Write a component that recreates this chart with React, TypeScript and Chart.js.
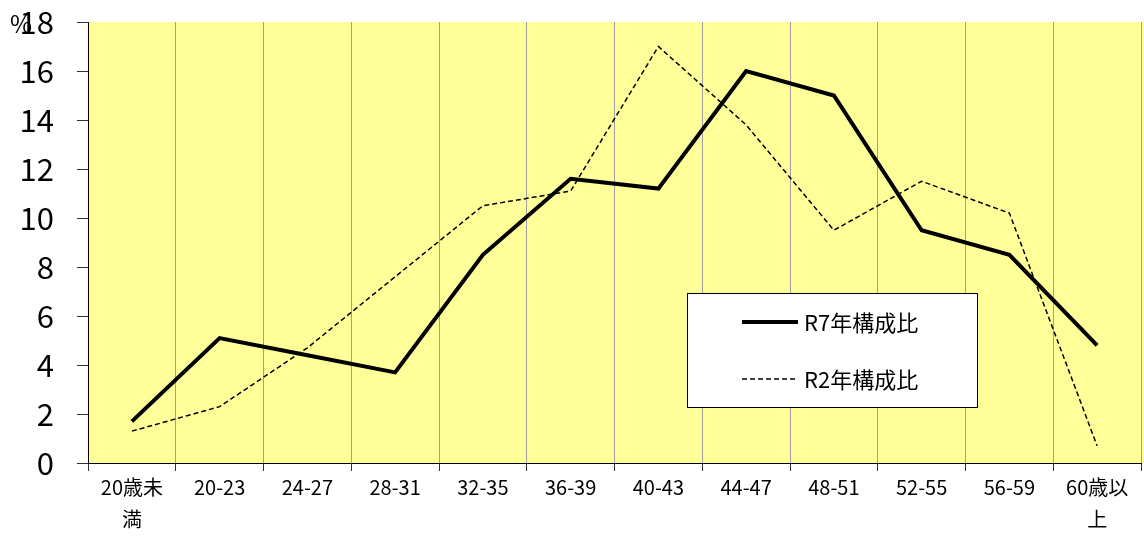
import React, { useEffect, useRef } from "react";
import { Chart, registerables } from "chart.js";

Chart.register(...registerables);

const categories: (string | string[])[] = [
  ["20歳未", "満"],
  "20-23",
  "24-27",
  "28-31",
  "32-35",
  "36-39",
  "40-43",
  "44-47",
  "48-51",
  "52-55",
  "56-59",
  ["60歳以", "上"],
];
const r7Label = "R7年構成比";
const r2Label = "R2年構成比";
const r7Values = [1.7, 5.1, 4.4, 3.7, 8.5, 11.6, 11.2, 16.0, 15.0, 9.5, 8.5, 4.8];
const r2Values = [1.3, 2.3, 4.7, 7.6, 10.5, 11.1, 17.0, 13.8, 9.5, 11.5, 10.2, 0.7];
const yMin = 0;
const yMax = 18;
const yStep = 2;
const unitLabel = "%";

const FONT = "'Noto Sans CJK JP', 'Noto Sans', sans-serif";

const bgPlugin = {
  id: "plotBg",
  beforeDraw(chart: any) {
    const { ctx, chartArea } = chart;
    ctx.save();
    ctx.fillStyle = "#FFFF99";
    ctx.fillRect(chartArea.left, chartArea.top, chartArea.right - chartArea.left + 3, chartArea.bottom - chartArea.top);
    ctx.restore();
  },
};

const overlayPlugin = {
  id: "overlay",
  afterDraw(chart: any) {
    const { ctx } = chart;
    ctx.save();
    // unit label
    ctx.fillStyle = "#000";
    ctx.font = `24px ${FONT}`;
    ctx.textAlign = "left";
    ctx.textBaseline = "middle";
    ctx.fillText(unitLabel, 10, 24);

    // legend box
    const bx = 687, by = 293, bw = 290, bh = 114;
    ctx.fillStyle = "#fff";
    ctx.fillRect(bx, by, bw, bh);
    ctx.strokeStyle = "#000";
    ctx.lineWidth = 1;
    ctx.strokeRect(bx + 0.5, by + 0.5, bw, bh);

    const items = chart.data.datasets;
    const rows = [322, 379];
    items.forEach((ds: any, i: number) => {
      const y = rows[i];
      ctx.beginPath();
      ctx.strokeStyle = ds.borderColor;
      ctx.lineWidth = ds.borderWidth;
      ctx.setLineDash(ds.borderDash || []);
      ctx.moveTo(742, y);
      ctx.lineTo(798, y);
      ctx.stroke();
      ctx.setLineDash([]);
      ctx.fillStyle = "#000";
      ctx.font = `22px ${FONT}`;
      ctx.textAlign = "left";
      ctx.textBaseline = "middle";
      ctx.fillText(ds.label, 804, y + 1);
    });
    ctx.restore();
  },
};

export default function App() {
  const canvasRef = useRef<HTMLCanvasElement | null>(null);

  useEffect(() => {
    document.body.style.margin = "0";
    const canvas = canvasRef.current;
    if (!canvas) return;
    const chart = new Chart(canvas, {
      type: "line",
      data: {
        labels: categories,
        datasets: [
          {
            label: r7Label,
            data: r7Values,
            borderColor: "#000",
            borderWidth: 4,
            pointRadius: 0,
            tension: 0,
            fill: false,
          },
          {
            label: r2Label,
            data: r2Values,
            borderColor: "#000",
            borderWidth: 1.5,
            borderDash: [5, 3],
            pointRadius: 0,
            tension: 0,
            fill: false,
          },
        ],
      },
      options: {
        animation: false,
        responsive: false,
        maintainAspectRatio: false,
        layout: { padding: { top: 22, right: 3, left: 0, bottom: 0 } },
        plugins: {
          legend: { display: false },
          tooltip: { enabled: false },
        },
        scales: {
          x: {
            offset: true,
            grid: {
              offset: true,
              color: "#a0a0a0",
              lineWidth: 1,
              tickLength: 8,
              tickColor: "#333",
              drawOnChartArea: true,
            },
            border: { color: "#000", width: 1 },
            ticks: {
              color: "#000",
              font: { family: FONT, size: 20, lineHeight: 1.6 },
              padding: 0,
              maxRotation: 0,
              autoSkip: false,
            },
            afterFit(scale: any) {
              scale.height = 74;
              scale.paddingLeft = 0;
              scale.paddingRight = 0;
            },
          },
          y: {
            min: yMin,
            max: yMax,
            grid: {
              drawOnChartArea: false,
              tickLength: 11,
              tickColor: "#333",
            },
            border: { color: "#000", width: 1 },
            ticks: {
              stepSize: yStep,
              color: "#000",
              font: { family: FONT, size: 31 },
              padding: 23,
            },
            afterFit(scale: any) {
              scale.width = 88;
              scale.paddingTop = 0;
              scale.paddingBottom = 0;
            },
          },
        },
      },
      plugins: [bgPlugin, overlayPlugin],
    });
    return () => chart.destroy();
  }, []);

  return (
    <div style={{ width: 1144, height: 537 }}>
      <canvas ref={canvasRef} width={1144} height={537} style={{ display: "block" }} />
    </div>
  );
}
